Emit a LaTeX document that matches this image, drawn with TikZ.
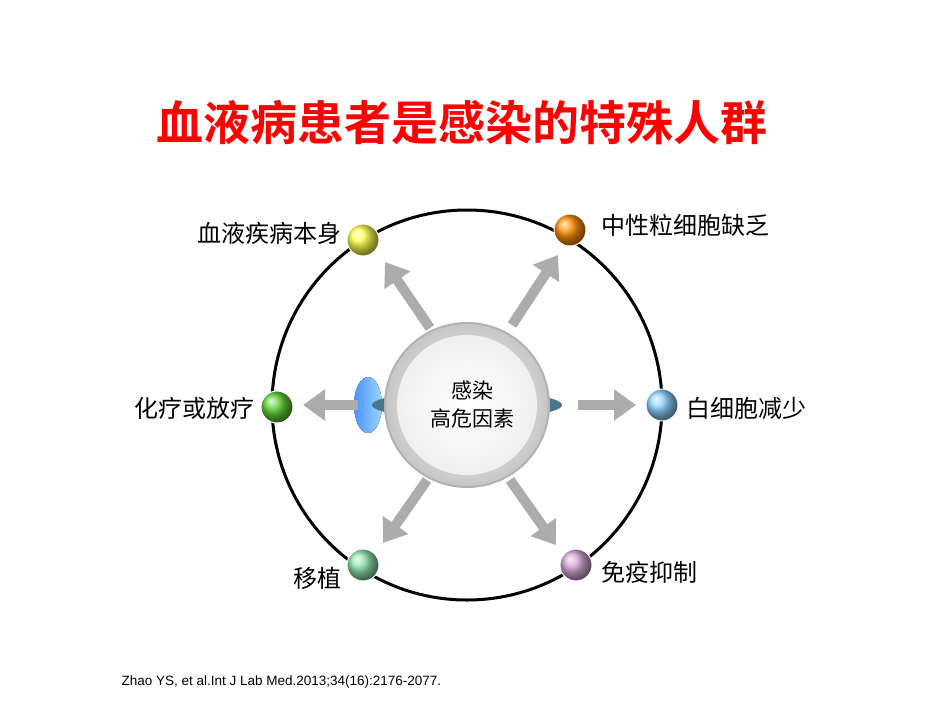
\documentclass[tikz,border=0pt]{standalone}
\usepackage{fontspec}
\newfontfamily\cjk{Noto Sans CJK SC}
\newfontfamily\cjkb{Noto Sans CJK SC Bold}
\setmainfont{Liberation Sans}
\usetikzlibrary{arrows.meta}
\begin{document}
\begin{tikzpicture}[x=1pt,y=-1pt,
  ballnode/.style={circle,minimum size=32pt,inner sep=0pt,draw=white,line width=1pt},
  lbl/.style={font=\cjk\fontsize{24}{28}\selectfont},
  arr/.style={line width=10pt,draw=gray!65,-{Triangle[length=22pt,width=30pt]}}]
\useasboundingbox (0,0) rectangle (950,713);
\node[font=\cjkb\fontsize{47}{52}\selectfont,text=red] (title) at (462,123) {血液病患者是感染的特殊人群};
\node[circle,draw=black,line width=3pt,minimum size=390pt,inner sep=0pt] (big) at (467,405) {};
% blue blobs
\fill[left color=cyan!40!blue!70,right color=cyan!60!blue!40] (368,405) ellipse (14pt and 28pt);
\fill[color=cyan!50!black] (467,405) ellipse (95pt and 14pt);
\node[circle,minimum size=164pt,inner sep=0pt,draw=gray!60,line width=2pt,
  inner color=white,outer color=gray!45] (core) at (467,405) {};
\node[circle,minimum size=140pt,inner sep=0pt,inner color=white,outer color=gray!12] (corein) at (467,405) {};
\node[font=\cjk\fontsize{21}{28}\selectfont,align=center] (ctext) at (472,405) {感染\\高危因素};
% arrows
\coordinate (a1s) at (430,328); \coordinate (a1e) at (385,262);
\coordinate (a2s) at (512,325); \coordinate (a2e) at (558,255);
\coordinate (a3s) at (358,405); \coordinate (a3e) at (303,405);
\coordinate (a4s) at (578,405); \coordinate (a4e) at (636,405);
\coordinate (a5s) at (427,480); \coordinate (a5e) at (383,543);
\coordinate (a6s) at (510,480); \coordinate (a6e) at (556,545);
\foreach \s/\e in {a1s/a1e,a2s/a2e,a3s/a3e,a4s/a4e,a5s/a5e,a6s/a6e}{\draw[arr] (\s) -- (\e);}
% balls
\node[ballnode,ball color=yellow!70!white] (b1) at (363,240) {};
\node[ballnode,ball color=orange!90!yellow] (b2) at (570,230) {};
\node[ballnode,ball color=green!55!olive!80!white] (b3) at (277,407) {};
\node[ballnode,ball color=blue!40!cyan!45!white] (b4) at (662,405) {};
\node[ballnode,ball color=teal!50!green!45!white] (b5) at (363,565) {};
\node[ballnode,ball color=violet!35!white] (b6) at (576,565) {};
\node[lbl,anchor=east] (l1) at (345,233) {血液疾病本身};
\node[lbl,anchor=west] (l2) at (598,225) {中性粒细胞缺乏};
\node[lbl,anchor=east] (l3) at (258,408) {化疗或放疗};
\node[lbl,anchor=west] (l4) at (683,408) {白细胞减少};
\node[lbl,anchor=east] (l5) at (345,578) {移植};
\node[lbl,anchor=west] (l6) at (598,572) {免疫抑制};
\node[font=\fontsize{13.5}{15}\selectfont,anchor=west] (ref) at (118,682) {Zhao YS, et al.Int J Lab Med.2013;34(16):2176-2077.};
\end{tikzpicture}
\end{document}
